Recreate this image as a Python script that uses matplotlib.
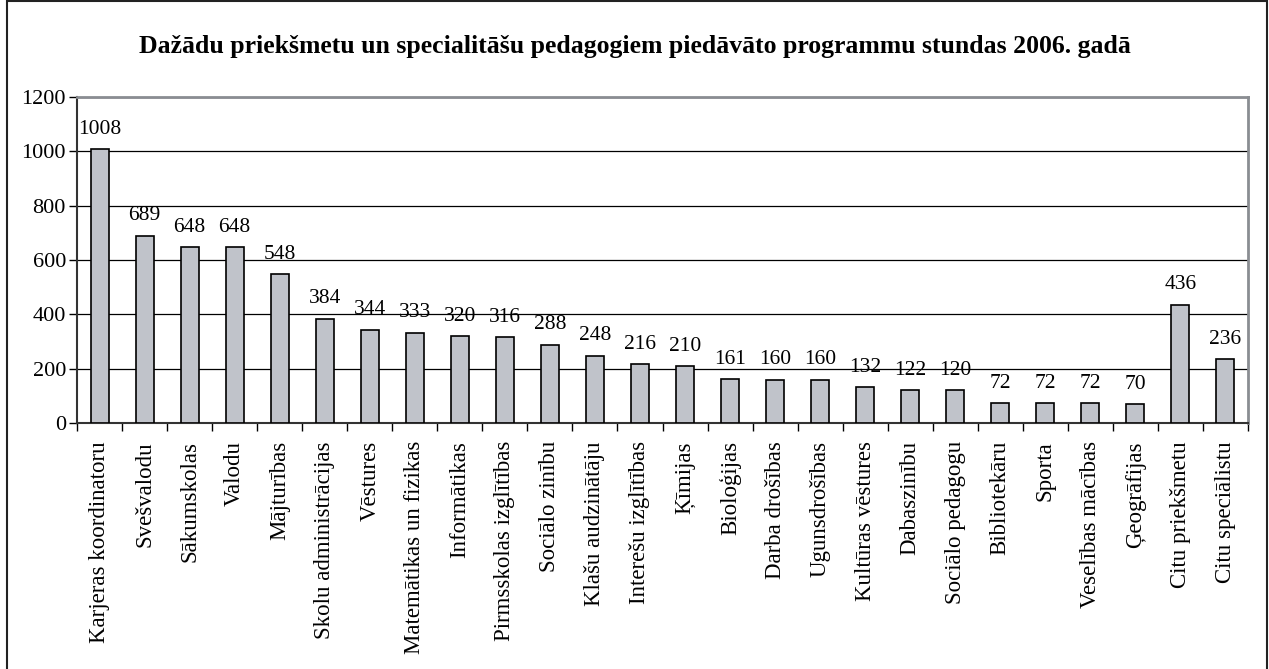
import numpy as np
import matplotlib
matplotlib.use("Agg")
import matplotlib.pyplot as plt
from matplotlib.patches import Rectangle

categories = ["Karjeras koordinatoru", "Svešvalodu", "Sākumskolas", "Valodu",
              "Mājturības", "Skolu administrācijas", "Vēstures",
              "Matemātikas un fizikas", "Informātikas", "Pirmsskolas izglītības",
              "Sociālo zinību", "Klašu audzinātāju", "Interešu izglītības",
              "Ķīmijas", "Bioloģijas", "Darba drošības", "Ugunsdrošības",
              "Kultūras vēstures", "Dabaszinību", "Sociālo pedagogu",
              "Bibliotekāru", "Sporta", "Veselības mācības", "Ģeogrāfijas",
              "Citu priekšmetu", "Citu speciālistu"]
values = [1008, 689, 648, 648, 548, 384, 344, 333, 320, 316, 288, 248, 216,
          210, 161, 160, 160, 132, 122, 120, 72, 72, 72, 70, 436, 236]
yticks = [0, 200, 400, 600, 800, 1000, 1200]
title = "Dažādu priekšmetu un specialitāšu pedagogiem piedāvāto programmu stundas 2006. gadā"

plt.rcParams['font.family'] = ['Liberation Serif', 'DejaVu Serif']

fig = plt.figure(figsize=(12.69, 6.69), dpi=100)
ax = fig.add_axes([77/1269, 1 - 423/669, (1248-77)/1269, (423-97)/669])

x = np.arange(len(categories))
ax.bar(x, values, width=0.4, color='#c0c3ca', edgecolor='black', linewidth=1.2, zorder=3)
for xi, v in zip(x, values):
    ax.text(xi, v + 38, str(v), ha='center', va='bottom', fontsize=15.5)

ax.set_xlim(-0.5, len(categories) - 0.5)
ax.set_ylim(0, 1200)
ax.set_yticks(yticks)
ax.set_yticklabels([str(t) for t in yticks], fontsize=16)
ax.yaxis.grid(True, color='black', linewidth=0.9, zorder=0)

ax.set_xticks(x)
ax.set_xticklabels(categories, rotation=90, fontsize=16.5)
ax.tick_params(axis='x', length=0, pad=13)
ax.set_xticks(np.arange(len(categories) + 1) - 0.5, minor=True)
ax.tick_params(axis='x', which='minor', length=6, width=1, color='black')
ax.tick_params(axis='y', length=6, width=1, pad=2)

for s in ['top', 'right']:
    ax.spines[s].set_color('#8a8d92')
    ax.spines[s].set_linewidth(2)
for s in ['left', 'bottom']:
    ax.spines[s].set_color('#333333')
    ax.spines[s].set_linewidth(1.5)

fig.text(0.5, 1 - 46/669, title, ha='center', va='center', fontsize=18.5, fontweight='bold')

fig.patches.append(Rectangle((7/1269, -0.05), (1267-7)/1269, 1.048, transform=fig.transFigure,
                             fill=False, edgecolor='#222222', linewidth=1.5))

fig.savefig("out.png", dpi=100)
